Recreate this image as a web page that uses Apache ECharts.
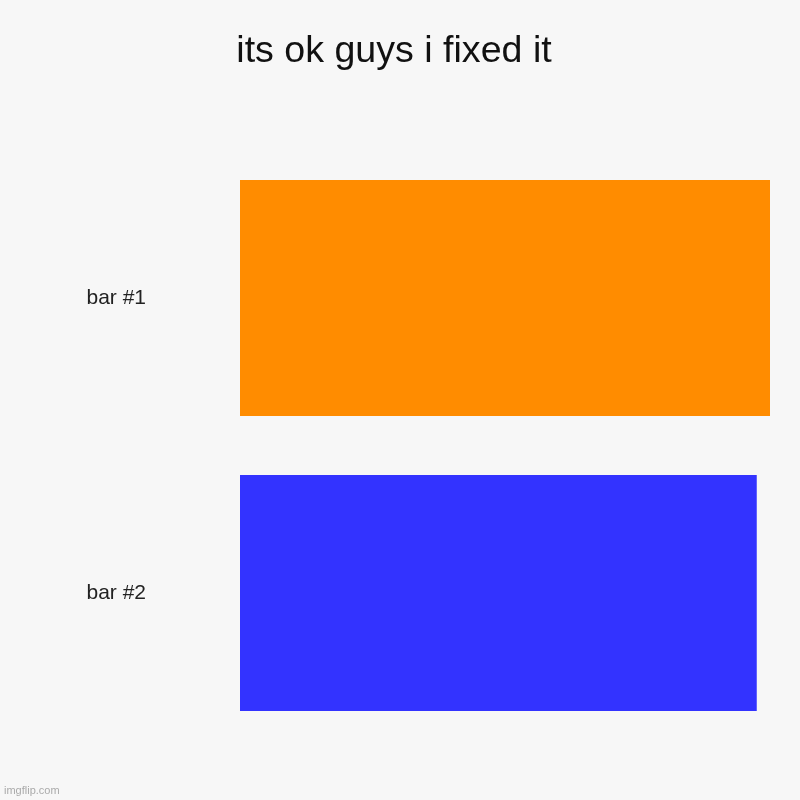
<!DOCTYPE html>
<html>
<head>
<meta charset="utf-8">
<script src="https://cdn.jsdelivr.net/npm/echarts@6/dist/echarts.min.js"></script>
<style>
html,body{margin:0;padding:0;background:#f7f7f7;}
#chart{width:800px;height:800px;}
</style>
</head>
<body>
<div id="chart"></div>
<script>
// data
var categories = ['bar #1', 'bar #2'];
var values = [40, 39];
var colors = ['#ff8c00', '#3333ff'];

var myChart = echarts.init(document.getElementById('chart'));
var option = {
    backgroundColor: '#f7f7f7',
    animation: false,
    title: {
        text: 'its ok guys i fixed it',
        left: 389,
        top: 28,
        textAlign: 'center',
        textStyle: {
            fontFamily: 'Liberation Sans',
            fontSize: 37.6,
            fontWeight: 'normal',
            color: '#111'
        }
    },
    graphic: [{
        type: 'text',
        left: 4,
        top: 785,
        style: {
            text: 'imgflip.com',
            fontFamily: 'Liberation Sans',
            fontSize: 11,
            fill: '#aaa'
        }
    }],
    grid: { left: 240, right: 30, top: 150.5, bottom: 59.5 },
    xAxis: {
        type: 'value',
        min: 0,
        max: 40,
        show: false
    },
    yAxis: {
        type: 'category',
        data: categories,
        inverse: true,
        axisLine: { show: false },
        axisTick: { show: false },
        axisLabel: {
            margin: 94,
            padding: [6, 0, 0, 0],
            fontFamily: 'Liberation Sans',
            fontSize: 21,
            color: '#222'
        }
    },
    series: [{
        type: 'bar',
        data: values.map(function (v, i) {
            return { value: v, itemStyle: { color: colors[i] } };
        }),
        barCategoryGap: '20%'
    }]
};
myChart.setOption(option, true);
</script>
</body>
</html>
